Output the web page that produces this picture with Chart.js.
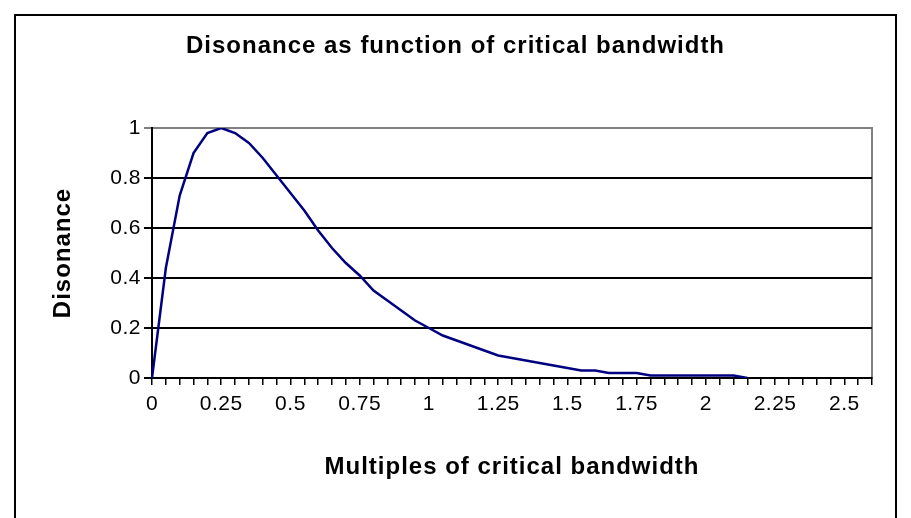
<!DOCTYPE html>
<html>
<head>
<meta charset="utf-8">
<script src="https://cdn.jsdelivr.net/npm/chart.js@4/dist/chart.umd.min.js"></script>
<style>
  html, body { margin: 0; padding: 0; background: #fff; }
  #wrap { width: 911px; height: 518px; }
</style>
</head>
<body>
<div id="wrap"><canvas id="chart" width="911" height="518"></canvas></div>
<script>
// --- data ---
const categories = [
  0, 0.05, 0.1, 0.15, 0.2, 0.25, 0.3, 0.35, 0.4, 0.45, 0.5, 0.55, 0.6, 0.65,
  0.7, 0.75, 0.8, 0.85, 0.9, 0.95, 1, 1.05, 1.1, 1.15, 1.2, 1.25, 1.3, 1.35,
  1.4, 1.45, 1.5, 1.55, 1.6, 1.65, 1.7, 1.75, 1.8, 1.85, 1.9, 1.95, 2, 2.05,
  2.1, 2.15, 2.2, 2.25, 2.3, 2.35, 2.4, 2.45, 2.5, 2.55, 2.6,
];
const dissonance = [
  0, 0.44, 0.73, 0.9, 0.98, 1, 0.98, 0.94, 0.88, 0.81, 0.74, 0.67, 0.59, 0.52,
  0.46, 0.41, 0.35, 0.31, 0.27, 0.23, 0.2, 0.17, 0.15, 0.13, 0.11, 0.09, 0.08,
  0.07, 0.06, 0.05, 0.04, 0.03, 0.03, 0.02, 0.02, 0.02, 0.01, 0.01, 0.01, 0.01,
  0.01, 0.01, 0.01, 0,
];
const yTickLabels = ["0", "0.2", "0.4", "0.6", "0.8", "1"];
const labelEvery = 5; // a label on every 5th category (0, 0.25, 0.5 ...)

Chart.defaults.font.family = "'Liberation Sans', Arial, sans-serif";
Chart.defaults.color = "#000";

// the original (an old spreadsheet chart) has slightly loose lettering
function spaced(obj, fn, spacing) {
  if (obj._spaced) return;
  const orig = obj[fn];
  obj[fn] = function (...args) {
    const c = this.ctx;
    c.save();
    c.letterSpacing = spacing;
    orig.apply(this, args);
    c.restore();
  };
  obj._spaced = true;
}

// gray plot frame + black outer border, drawn under the axes
const frame = {
  id: "frame",
  afterLayout(chart) {
    if (chart.titleBlock) spaced(chart.titleBlock, "draw", "1px");
  },
  beforeDraw(chart) {
    const { ctx, chartArea: a } = chart;
    ctx.letterSpacing = "0.5px";
    ctx.save();
    ctx.strokeStyle = "#808080";
    ctx.lineWidth = 2;
    ctx.strokeRect(a.left, a.top, a.right - a.left, a.bottom - a.top);
    ctx.strokeStyle = "#000";
    ctx.lineWidth = 2;
    ctx.beginPath();
    ctx.moveTo(15, 530);
    ctx.lineTo(15, 15);
    ctx.lineTo(896, 15);
    ctx.lineTo(896, 530);
    ctx.stroke();
    ctx.restore();
  },
};

const ctx = document.getElementById("chart").getContext("2d");
new Chart(ctx, {
  type: "line",
  data: {
    labels: categories,
    datasets: [
      {
        label: "Disonance",
        data: dissonance,
        borderColor: "#000080",
        borderWidth: 2.5,
        pointRadius: 0,
        tension: 0,
      },
    ],
  },
  options: {
    responsive: false,
    animation: false,
    layout: { padding: 0 },
    plugins: {
      legend: { display: false },
      tooltip: { enabled: false },
      title: {
        display: true,
        text: "Disonance as function of critical bandwidth",
        font: { size: 24, weight: "bold" },
        color: "#000",
        padding: { top: 31.6, bottom: 67.6 },
      },
    },
    scales: {
      x: {
        type: "category",
        offset: false,
        grid: {
          display: true,
          drawOnChartArea: false,
          drawTicks: true,
          tickLength: 7,
          color: "#000",
          lineWidth: 1.5,
        },
        border: { color: "#000", width: 2 },
        ticks: {
          autoSkip: false,
          maxRotation: 0,
          padding: 6.4,
          font: { size: 21 },
          callback: (v, i) => (i % labelEvery === 0 ? String(categories[i]) : ""),
        },
        title: {
          display: true,
          text: "Multiples of critical bandwidth",
          font: { size: 24, weight: "bold" },
          padding: { top: 0, bottom: 36.6 },
        },
        afterFit(s) {
          s.height = 140;
          spaced(s, "drawTitle", "1px");
        },
      },
      y: {
        min: 0,
        max: 1,
        grid: {
          color: (c) => (c.tick && c.tick.value === 1 ? "#808080" : "#000"),
          lineWidth: 2,
          tickLength: 8,
        },
        border: { color: "#000", width: 2 },
        ticks: {
          stepSize: 0.2,
          padding: 3,
          font: { size: 21 },
          callback: (v, i) => yTickLabels[i],
        },
        title: {
          display: true,
          text: "Disonance",
          font: { size: 24, weight: "bold" },
          padding: { top: 48.6, bottom: 0 },
        },
        afterFit(s) {
          s.width = 152;
          spaced(s, "drawTitle", "1px");
        },
      },
      // empty spacer on the right so the plot ends where the original does
      spacer: {
        type: "linear",
        position: "right",
        display: true,
        grid: { display: false },
        border: { display: false },
        ticks: { display: false },
        afterFit(s) { s.width = 39; },
      },
    },
  },
  plugins: [frame],
});
</script>
</body>
</html>
